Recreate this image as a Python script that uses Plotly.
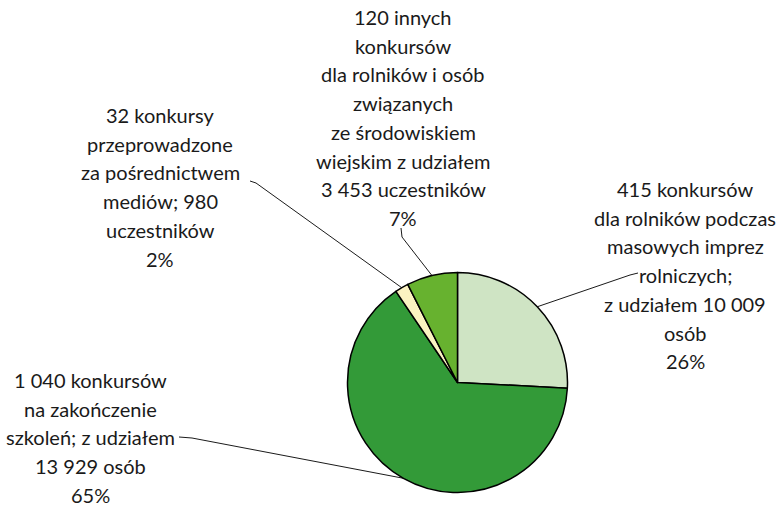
import numpy as np
import plotly.graph_objects as go

# slices, clockwise from 12 o'clock
contests = [415, 1040, 32, 120]
colors = ["#cfe4c4", "#339a38", "#fbf3c1", "#67b22f"]

label_415 = ["415 konkursów", "dla rolników podczas", "masowych imprez",
             "rolniczych;", "z udziałem 10 009", "osób", "26%"]
label_1040 = ["1 040 konkursów", "na zakończenie", "szkoleń; z udziałem",
              "13 929 osób", "65%"]
label_32 = ["32 konkursy", "przeprowadzone", "za pośrednictwem",
            "mediów; 980", "uczestników", "2%"]
label_120 = ["120 innych", "konkursów", "dla rolników i osób", "związanych",
             "ze środowiskiem", "wiejskim z udziałem", "3 453 uczestników", "7%"]

W, H = 781, 509
cx, cy, r = 457.5, 382.5, 110
line_gap = 28.7
font = dict(family="Lato, 'Open Sans', sans-serif", size=20, color="#1a1a1a")

fig = go.Figure()

fig.add_trace(go.Pie(
    values=contests,
    sort=False,
    direction="clockwise",
    rotation=0,
    marker=dict(colors=colors, line=dict(color="black", width=1.5)),
    textinfo="none",
    hoverinfo="value+percent",
    showlegend=False,
    domain=dict(x=[(cx - r) / W, (cx + r) / W], y=[(H - cy - r) / H, (H - cy + r) / H]),
))

# label blocks: (lines, centre x, first line y, text-side anchor of leader line)
blocks = [
    (label_415, 685, 189, [(638, 273), (630, 275)]),
    (label_1040, 90, 380, [(179, 437), (192, 438)]),
    (label_32, 160, 115, [(250, 181), (256, 183)]),
    (label_120, 403, 17, [(401, 228), (402, 237)]),
]

total = sum(contests)
start = 0.0
for (lines, bx, by, anchor), v in zip(blocks, contests):
    mid = np.radians((start + v / 2) / total * 360)
    start += v
    px_, py_ = cx + r * np.sin(mid), cy - r * np.cos(mid)
    xs = [a[0] for a in anchor] + [px_]
    ys = [a[1] for a in anchor] + [py_]
    fig.add_trace(go.Scatter(x=xs, y=ys, mode="lines", line=dict(color="black", width=0.9),
                             hoverinfo="skip", showlegend=False))
    for i, t in enumerate(lines):
        fig.add_annotation(x=bx, y=by + i * line_gap, text=t, showarrow=False,
                           xref="x", yref="y", xanchor="center", yanchor="middle", font=font)

fig.update_layout(
    width=W, height=H,
    margin=dict(l=0, r=0, t=0, b=0),
    paper_bgcolor="white", plot_bgcolor="rgba(0,0,0,0)",
    xaxis=dict(range=[0, W], visible=False, fixedrange=True),
    yaxis=dict(range=[H, 0], visible=False, fixedrange=True),
)

fig.write_html("out.html", config={"displayModeBar": False},
               post_script="document.body.style.margin='0';")
